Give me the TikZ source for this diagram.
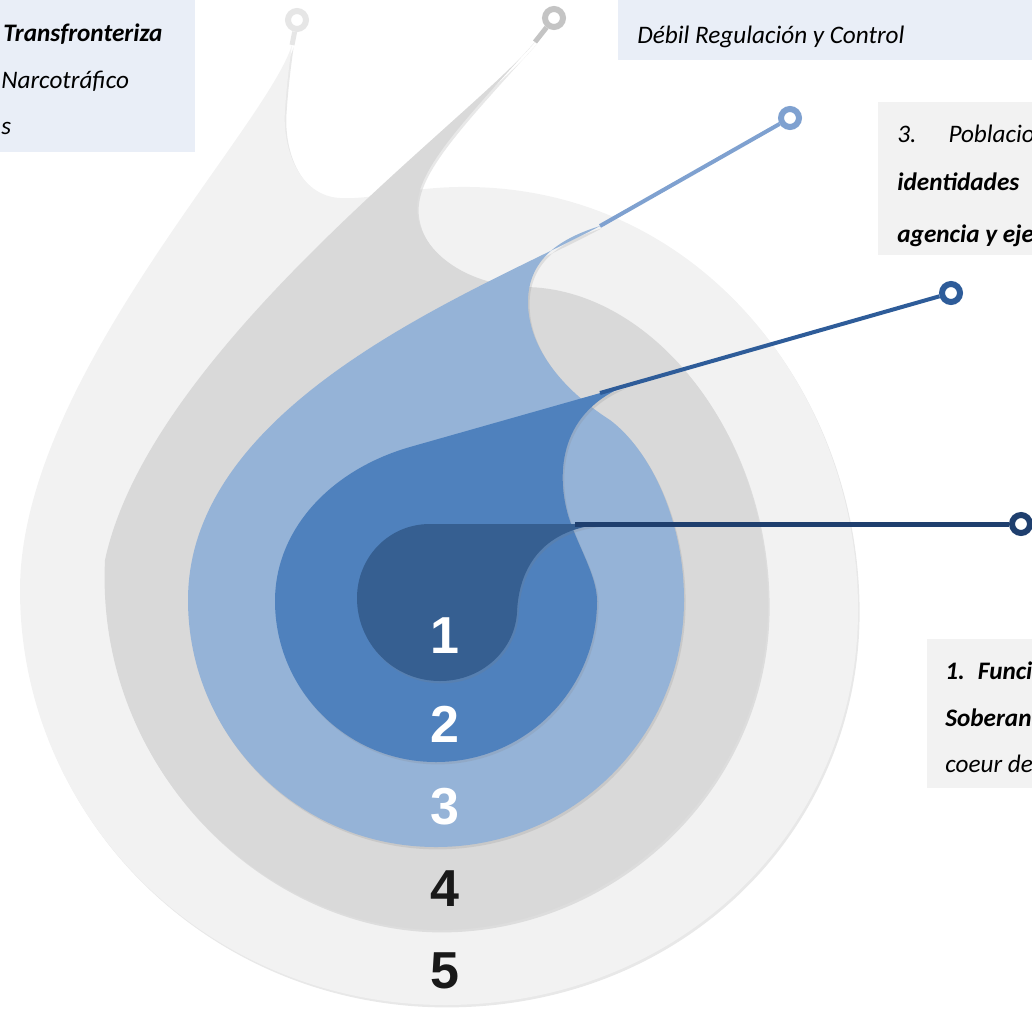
\documentclass[tikz,border=0pt]{standalone}
\usepackage{fontspec}
\setmainfont{Carlito}
\newfontfamily\numfont{Liberation Sans}
\usetikzlibrary{shadows}

\definecolor{layerfive}{HTML}{F2F2F2}
\definecolor{layerfour}{HTML}{D9D9D9}
\definecolor{layerthree}{HTML}{95B3D7}
\definecolor{layertwo}{HTML}{4F81BD}
\definecolor{layerone}{HTML}{365F91}
\definecolor{lineone}{HTML}{1F3F6E}
\definecolor{linetwo}{HTML}{2E5C99}
\definecolor{linethree}{HTML}{7FA1D0}
\definecolor{linefour}{HTML}{C4C4C4}
\definecolor{linefive}{HTML}{E6E6E6}
\definecolor{boxblue}{HTML}{E9EEF7}
\definecolor{boxgray}{HTML}{F2F2F2}

\begin{document}
\begin{tikzpicture}[
                    x=0.5pt, y=-0.5pt,
                    blob/.style={
                        fill=#1,
                        drop shadow={opacity=0.18, shadow xshift=0.8pt, shadow yshift=-1.2pt}
                    },
                    ring/.style={
                        circle, draw=#1, fill=white,
                        line width=3pt, inner sep=0pt, minimum size=9pt
                    },
                    stem/.style={draw=#1, line width=2pt},
                    num/.style={font=\numfont\fontsize{26}{26}\selectfont\bfseries},
                    boxtext/.style={
                        anchor=base west, inner sep=0pt,
                        font=\fontsize{12.6}{15}\selectfont\itshape
                    },
                    boxbold/.style={
                        boxtext,
                        font=\fontsize{12.6}{15}\selectfont\bfseries\itshape
                    }
                ]
    \useasboundingbox (0,0) rectangle (1032,1022);
    \clip (0,0) rectangle (1032,1022);

    % drops, outer to inner
    \path[blob=layerfive] (292,45) .. controls (265,130) and (20,380) .. (20,590)
        .. controls (20,820) and (210,1005) .. (445,1005)
        .. controls (680,1005) and (858,830) .. (858,610)
        .. controls (858,390) and (700,190) .. (470,187)
        .. controls (410,186) and (375,200) .. (340,198)
        .. controls (300,196) and (282,150) .. (285,110)
        .. controls (287,80) and (290,60) .. (292,45) -- cycle;
    \path[blob=layerfour] (535,42) .. controls (470,120) and (150,350) .. (105,560)
        .. controls (95,770) and (265,930) .. (440,930)
        .. controls (615,930) and (768,785) .. (768,605)
        .. controls (768,430) and (650,288) .. (525,287)
        .. controls (465,285) and (417,250) .. (417,208)
        .. controls (417,170) and (460,125) .. (535,42) -- cycle;
    \path[blob=layerthree] (600,226) .. controls (480,290) and (188,400) .. (188,600)
        .. controls (188,737) and (299,847) .. (436,847)
        .. controls (573,847) and (684,737) .. (684,600)
        .. controls (684,520) and (650,450) .. (610,420)
        .. controls (560,388) and (527,345) .. (528,300)
        .. controls (529,262) and (555,240) .. (600,226) -- cycle;
    \path[blob=layertwo] (625,386) -- (410,447) .. controls (330,470) and (275,530) .. (275,601)
        .. controls (275,690) and (347,762) .. (436,762)
        .. controls (525,762) and (597,690) .. (597,601)
        .. controls (597,575) and (577,545) .. (568,515)
        .. controls (558,480) and (555,415) .. (625,386) -- cycle;
    \path[blob=layerone] (605,524) -- (430,524) .. controls (388,524) and (357,558) .. (357,598)
        .. controls (357,644) and (394,681) .. (440,681)
        .. controls (482,681) and (515,650) .. (517,612)
        .. controls (519,565) and (545,528) .. (605,524) -- cycle;

    % tail ends and rings
    \coordinate (t1) at (575,524);
    \coordinate (t2) at (600,393);
    \coordinate (t3) at (600,226);
    \coordinate (t4) at (535,42);
    \coordinate (t5) at (292,45);
    \node[ring=lineone]   (r1) at (1021,524) {};
    \node[ring=linetwo]   (r2) at (951,293) {};
    \node[ring=linethree] (r3) at (790,118) {};
    \node[ring=linefour]  (r4) at (554,18) {};
    \node[ring=linefive]  (r5) at (297,20) {};
    \draw[stem=lineone, line width=2.5pt] (t1) -- (r1);
    \draw[stem=linetwo] (t2) -- (r2);
    \draw[stem=linethree] (t3) -- (r3);
    \draw[stem=linefour, line width=2.5pt] (t4) -- (r4);
    \draw[stem=linefive, line width=2.5pt] (t5) -- (r5);

    \node[num, text=white]    (n1) at (445,636) {1};
    \node[num, text=white]    (n2) at (445,724) {2};
    \node[num, text=white]    (n3) at (445,807) {3};
    \node[num, text=black!90] (n4) at (445,889) {4};
    \node[num, text=black!90] (n5) at (445,971) {5};

    % text boxes
    \fill[boxblue] (0,0) rectangle (195,152);
    \fill[boxblue] (618,0) rectangle (1032,60);
    \fill[boxgray] (878,102) rectangle (1032,255);
    \fill[boxgray] (927,639) rectangle (1032,788);

    \node[boxbold] (tl1) at (3,42) {Transfronteriza};
    \node[boxtext] (tl2) at (1,89) {Narcotráfico};
    \node[boxtext] (tl3) at (1,134) {s};
    \node[boxtext] (tr1) at (637,44) {Débil Regulación y Control};
    \node[boxtext] (p1) at (897,142) {3.\hspace{16pt}Poblacio};
    \node[boxbold] (p2) at (897,190) {identidades};
    \node[boxbold] (p3) at (897,242) {agencia y eje};
    \node[boxbold] (s1) at (945,679) {1.\hspace{6.5pt}Funci};
    \node[boxbold] (s2) at (945,726) {Soberan};
    \node[boxtext] (s3) at (945,772) {coeur de};
\end{tikzpicture}
\end{document}
